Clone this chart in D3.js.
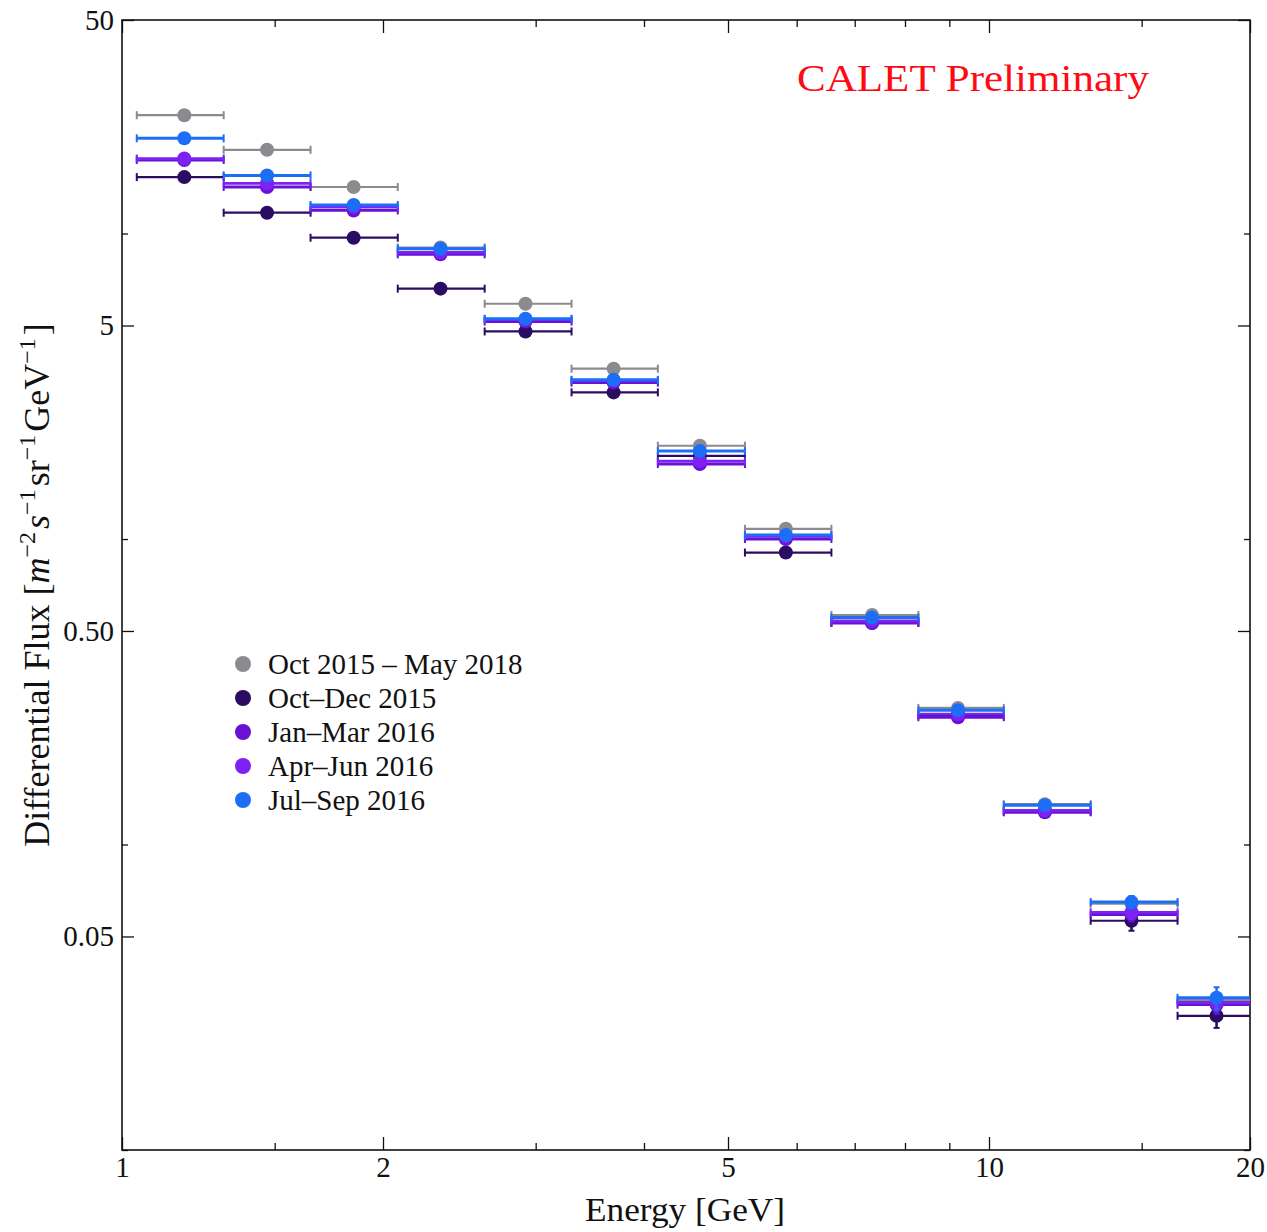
<!DOCTYPE html>
<html>
<head>
<meta charset="utf-8">
<script src="https://cdn.jsdelivr.net/npm/d3@7"></script>
<style>
  body { margin: 0; background: #fff; }
  svg text { font-family: "Liberation Serif", "Times New Roman", serif; fill: #111; }
</style>
</head>
<body>
<div id="chart"></div>
<script>
/* CALET flux spectra - error-bar chart on log/log axes */

// Energy bins [GeV]
const binLow  = [1.04, 1.31, 1.65, 2.08, 2.62, 3.30, 4.15, 5.23, 6.58, 8.29, 10.4, 13.1, 16.5];
const binHigh = [1.31, 1.65, 2.08, 2.62, 3.30, 4.15, 5.23, 6.58, 8.29, 10.4, 13.1, 16.5, 20.8];
const energy  = [1.18, 1.47, 1.85, 2.33, 2.92, 3.69, 4.64, 5.83, 7.33, 9.21, 11.6, 14.6, 18.3];

// Series labels
const seriesNames = ['Oct 2015 \u2013 May 2018', 'Oct\u2013Dec 2015', 'Jan\u2013Mar 2016', 'Apr\u2013Jun 2016', 'Jul\u2013Sep 2016'];

// Differential flux [m^-2 s^-1 sr^-1 GeV^-1]
const fluxAll    = [24.4, 18.8, 14.2, 9.0, 5.89, 3.61, 2.02, 1.08, 0.564, 0.280, 0.1355, 0.0640, 0.0310];
const fluxOctDec = [15.3, 11.7, 9.69, 6.60, 4.78, 3.02, 1.87, 0.903, 0.532, 0.265, 0.1285, 0.0563, 0.0275];
const fluxJanMar = [17.4, 14.2, 11.9, 8.55, 5.15, 3.25, 1.76, 1.00, 0.531, 0.261, 0.1275, 0.0590, 0.0299];
const fluxAprJun = [17.6, 14.6, 12.2, 8.68, 5.23, 3.30, 1.80, 1.02, 0.539, 0.267, 0.1294, 0.0600, 0.0304];
const fluxJulSep = [20.5, 15.5, 12.4, 8.92, 5.26, 3.32, 1.94, 1.03, 0.553, 0.275, 0.1344, 0.0648, 0.0315];

// Statistical errors on flux
const errAll    = [0.10, 0.08, 0.06, 0.04, 0.02, 0.015, 0.008, 0.005, 0.003, 0.0015, 0.0008, 0.0005, 0.0004];
const errOctDec = [0.25, 0.2, 0.15, 0.1, 0.06, 0.04, 0.025, 0.014, 0.009, 0.005, 0.003, 0.0041, 0.0024];
const errJanMar = [0.25, 0.2, 0.15, 0.1, 0.06, 0.04, 0.025, 0.014, 0.009, 0.005, 0.003, 0.0030, 0.0020];
const errAprJun = [0.25, 0.2, 0.15, 0.1, 0.06, 0.04, 0.025, 0.014, 0.009, 0.005, 0.003, 0.0030, 0.0020];
const errJulSep = [0.25, 0.2, 0.15, 0.1, 0.06, 0.04, 0.025, 0.014, 0.009, 0.005, 0.003, 0.0030, 0.0026];

// Axis ticks
const xMajor = [1, 2, 5, 10, 20];
const xMinor = [1.5, 3, 4, 6, 7, 8, 9, 15];
const yMajor = [50, 5, 0.5, 0.05];
const yMajorLabels = ['50', '5', '0.50', '0.05'];
const yMinor = [10, 1, 0.1, 0.01];

const fluxes = [fluxAll, fluxOctDec, fluxJanMar, fluxAprJun, fluxJulSep];
const errors = [errAll, errOctDec, errJanMar, errAprJun, errJulSep];
const colors = ['#8b8a8f', '#2a0c62', '#6812d6', '#7d22f2', '#1b6ef5'];
const lineWidths = [2.2, 2.2, 2.8, 2.8, 3];

const W = 1267, H = 1232;
const plot = { left: 122, right: 1250, top: 20, bottom: 1150 };

const svg = d3.select('#chart').append('svg')
  .attr('width', W)
  .attr('height', H);

const x = d3.scaleLog().domain([1, 20]).range([plot.left, plot.right]);
const y = d3.scaleLog().domain([0.01, 50]).range([plot.bottom, plot.top]);

svg.append('defs').append('clipPath').attr('id', 'plot-clip')
  .append('rect')
  .attr('x', plot.left).attr('y', plot.top)
  .attr('width', plot.right - plot.left).attr('height', plot.bottom - plot.top);

// Axes: ticks drawn inward on all four sides
function styleAxis(g) {
  g.select('.domain').remove();
  g.selectAll('line').attr('stroke', '#111').attr('stroke-width', 1.3);
  g.selectAll('text')
    .style('font-family', '"Liberation Serif", serif')
    .style('font-size', '29px')
    .attr('fill', '#111');
}

const bottomMajor = d3.axisBottom(x).tickValues(xMajor).tickSizeInner(-13).tickSizeOuter(0)
  .tickPadding(6).tickFormat(d3.format('d'));
const bottomMinor = d3.axisBottom(x).tickValues(xMinor).tickSizeInner(-7).tickSizeOuter(0).tickFormat('');
const topMajor = d3.axisTop(x).tickValues(xMajor).tickSizeInner(-13).tickSizeOuter(0).tickFormat('');
const topMinor = d3.axisTop(x).tickValues(xMinor).tickSizeInner(-7).tickSizeOuter(0).tickFormat('');

const leftMajor = d3.axisLeft(y).tickValues(yMajor).tickSizeInner(-12).tickSizeOuter(0)
  .tickPadding(8).tickFormat((d, i) => yMajorLabels[i]);
const leftMinor = d3.axisLeft(y).tickValues(yMinor).tickSizeInner(-6).tickSizeOuter(0).tickFormat('');
const rightMajor = d3.axisRight(y).tickValues(yMajor).tickSizeInner(-12).tickSizeOuter(0).tickFormat('');
const rightMinor = d3.axisRight(y).tickValues(yMinor).tickSizeInner(-6).tickSizeOuter(0).tickFormat('');

[bottomMajor, bottomMinor].forEach(ax => svg.append('g')
  .attr('transform', `translate(0,${plot.bottom})`).call(ax).call(styleAxis));
[topMajor, topMinor].forEach(ax => svg.append('g')
  .attr('transform', `translate(0,${plot.top})`).call(ax).call(styleAxis));
[leftMajor, leftMinor].forEach(ax => svg.append('g')
  .attr('transform', `translate(${plot.left},0)`).call(ax).call(styleAxis));
[rightMajor, rightMinor].forEach(ax => svg.append('g')
  .attr('transform', `translate(${plot.right},0)`).call(ax).call(styleAxis));

// Frame
svg.append('rect')
  .attr('x', plot.left).attr('y', plot.top)
  .attr('width', plot.right - plot.left).attr('height', plot.bottom - plot.top)
  .attr('fill', 'none')
  .attr('stroke', '#111')
  .attr('stroke-width', 1.6);

// Data points with error bars
const dataLayer = svg.append('g').attr('clip-path', 'url(#plot-clip)');

fluxes.forEach((flux, s) => {
  const color = colors[s];
  const lw = lineWidths[s];
  const pts = flux.map((v, i) => ({
    e: energy[i], lo: binLow[i], hi: binHigh[i], v: v, err: errors[s][i]
  }));

  const g = dataLayer.append('g');

  const pt = g.selectAll('g.pt')
    .data(pts)
    .join('g')
    .attr('class', 'pt');

  // horizontal bin bar
  pt.append('line')
    .attr('x1', d => x(d.lo)).attr('x2', d => x(d.hi))
    .attr('y1', d => y(d.v)).attr('y2', d => y(d.v))
    .attr('stroke', color).attr('stroke-width', lw);

  // bin end caps
  pt.append('line')
    .attr('x1', d => x(d.lo)).attr('x2', d => x(d.lo))
    .attr('y1', d => y(d.v) - 4).attr('y2', d => y(d.v) + 4)
    .attr('stroke', color).attr('stroke-width', 2);
  pt.append('line')
    .attr('x1', d => x(d.hi)).attr('x2', d => x(d.hi))
    .attr('y1', d => y(d.v) - 4).attr('y2', d => y(d.v) + 4)
    .attr('stroke', color).attr('stroke-width', 2);

  // vertical error bar
  pt.append('line')
    .attr('x1', d => x(d.e)).attr('x2', d => x(d.e))
    .attr('y1', d => y(d.v + d.err)).attr('y2', d => y(d.v - d.err))
    .attr('stroke', color).attr('stroke-width', 2.5);
  pt.append('line')
    .attr('x1', d => x(d.e) - 3).attr('x2', d => x(d.e) + 3)
    .attr('y1', d => y(d.v + d.err)).attr('y2', d => y(d.v + d.err))
    .attr('stroke', color).attr('stroke-width', 2);
  pt.append('line')
    .attr('x1', d => x(d.e) - 3).attr('x2', d => x(d.e) + 3)
    .attr('y1', d => y(d.v - d.err)).attr('y2', d => y(d.v - d.err))
    .attr('stroke', color).attr('stroke-width', 2);

  pt.append('circle')
    .attr('cx', d => x(d.e))
    .attr('cy', d => y(d.v))
    .attr('r', 7)
    .attr('fill', color);
});

// Axis titles
svg.append('text')
  .attr('x', 685)
  .attr('y', 1221)
  .attr('text-anchor', 'middle')
  .attr('font-size', 34)
  .attr('textLength', 200)
  .attr('lengthAdjust', 'spacingAndGlyphs')
  .text('Energy [GeV]');

const yTitle = svg.append('text')
  .attr('transform', 'translate(49,585) rotate(-90)')
  .attr('text-anchor', 'middle')
  .attr('font-size', 36);

yTitle.append('tspan').text('Differential Flux [');
const unitParts = [['m', '\u22122'], ['s', '\u22121'], ['sr', '\u22121'], ['GeV', '\u22121']];
unitParts.forEach(([base, sup], i) => {
  yTitle.append('tspan')
    .attr('font-style', i < 2 ? 'italic' : 'normal')
    .text(base);
  yTitle.append('tspan')
    .attr('font-size', 24)
    .attr('dy', -14)
    .text(sup);
  yTitle.append('tspan')
    .attr('dy', 14)
    .text('\u200a');
});
yTitle.append('tspan').text(']');

// Preliminary label
svg.append('text')
  .attr('x', 797)
  .attr('y', 91)
  .attr('font-size', 38)
  .attr('textLength', 352)
  .attr('lengthAdjust', 'spacingAndGlyphs')
  .style('fill', '#ff0a14')
  .text('CALET Preliminary');

// Legend
const legend = svg.append('g').attr('transform', 'translate(243,664)');
const item = legend.selectAll('g')
  .data(seriesNames)
  .join('g')
  .attr('transform', (d, i) => `translate(0,${i * 34})`);

item.append('circle')
  .attr('r', 8)
  .attr('fill', (d, i) => colors[i]);

item.append('text')
  .attr('x', 25)
  .attr('dy', '0.34em')
  .attr('font-size', 29)
  .text(d => d);
</script>
</body>
</html>
